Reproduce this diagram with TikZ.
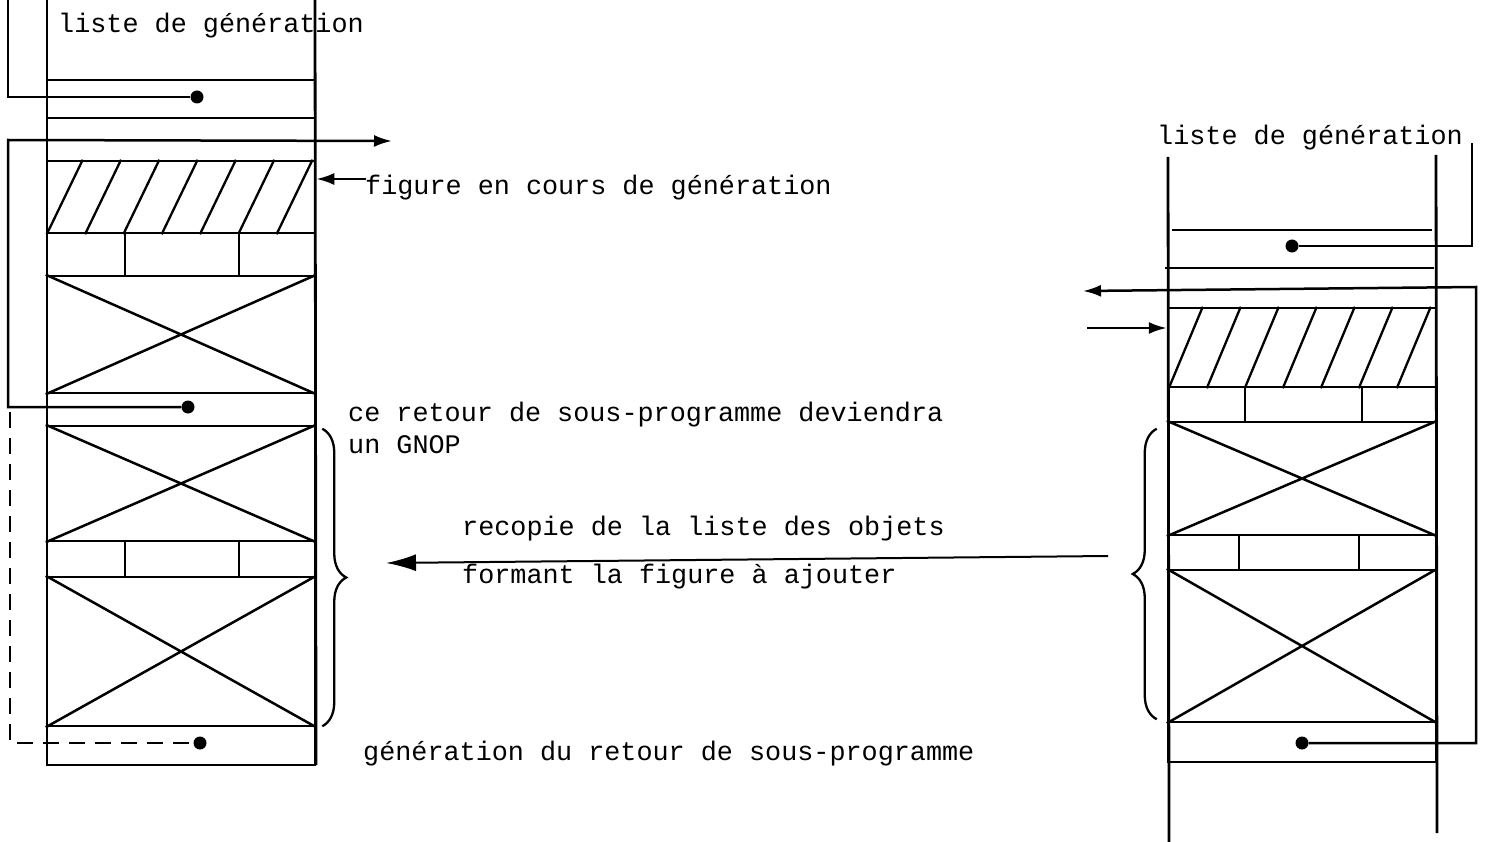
\documentclass[tikz,border=0pt]{standalone}
\usepackage{fontspec}
\setmainfont{Liberation Mono}
\usetikzlibrary{arrows.meta, decorations.pathreplacing}
\tikzset{
  wall/.style={line width=2.8pt},
  cell/.style={draw, line width=2.5pt, rectangle, inner sep=0pt,
    minimum width=268pt},
  xcross/.style={line width=2.5pt},
  hatch/.style={line width=2.3pt},
  ptr/.style={line width=2.5pt},
  ptrarrow/.style={ptr, -{Latex[length=18pt, width=12pt]}},
  bigarrow/.style={line width=2pt, -{Latex[length=30pt, width=17pt]}},
  dot/.style={circle, fill=black, inner sep=0pt, minimum size=13pt},
  lbl/.style={anchor=base west, inner sep=0pt, font=\fontsize{26.8}{32}\selectfont},
  brc/.style={line width=2.3pt, decorate, decoration={brace, amplitude=24pt}}
}

\begin{document}
\begin{tikzpicture}[x=1pt, y=-1pt]

  \useasboundingbox (0,0) rectangle (1487,842);

  % Left list (column 1)
  \draw[wall] (47,0) -- (47,765);
  \draw[wall] (315,0) -- (316,765);
  \draw[ptr] (47,80) -- (315,80);
  \draw[ptr] (47,118) -- (315,118);

  \node[cell, minimum height=72pt]  (lhatch) at (181,197)   {};
  \node[cell, minimum height=43pt]  (lrow1)  at (181,254.5) {};
  \node[cell, minimum height=117pt] (lx1)    at (181,334.5) {};
  \node[cell, minimum height=33pt]  (lret)   at (181,409.5) {};
  \node[cell, minimum height=115pt] (lx2)    at (181,483.5) {};
  \node[cell, minimum height=36pt]  (lrow2)  at (181,559)   {};
  \node[cell, minimum height=149pt] (lx3)    at (181,651.5) {};
  \node[cell, minimum height=39pt]  (lend)   at (181,745.5) {};

  % Right list (column 2)
  \draw[wall] (1168,157) -- (1169,842);
  \draw[wall] (1436,155) -- (1437,833);
  \draw[ptr] (1172,230) -- (1432,230);
  \draw[ptr] (1165,268) -- (1434,268);

  \node[cell, minimum height=79pt]  (rhatch) at (1302,347.5) {};
  \node[cell, minimum height=35pt]  (rrow1)  at (1302,404.5) {};
  \node[cell, minimum height=113pt] (rx1)    at (1302,478.5) {};
  \node[cell, minimum height=35pt]  (rrow2)  at (1302,552.5) {};
  \node[cell, minimum height=152pt] (rx2)    at (1302,646)   {};
  \node[cell, minimum height=40pt]  (rend)   at (1302,742)   {};

  % Hatching and crosses
  \foreach \i in {0,...,6} {
    \draw[hatch] ([xshift=\i*38.3pt+1pt]lhatch.south west) -- ([xshift=\i*38.3pt+37pt]lhatch.north west);
    \draw[hatch] ([xshift=\i*38pt+2pt]rhatch.south west) -- ([xshift=\i*38pt+36pt]rhatch.north west);
  }
  \foreach \b in {lx1, lx2, lx3, rx1, rx2}
    \draw[xcross] (\b.north west) -- (\b.south east) (\b.north east) -- (\b.south west);

  % Row dividers
  \foreach \r/\a/\c in {lrow1/79/193, lrow2/79/193, rrow1/78/195, rrow2/72/192} {
    \draw[ptr] ([xshift=\a pt]\r.north west) -- ([xshift=\a pt]\r.south west);
    \draw[ptr] ([xshift=\c pt]\r.north west) -- ([xshift=\c pt]\r.south west);
  }

  % Pointers
  \node[dot] (ld1) at (197,97)  {};
  \node[dot] (ld2) at (188,407) {};
  \node[dot] (ld3) at (200,743) {};
  \node[dot] (rd1) at (1292,246) {};
  \node[dot] (rd2) at (1302,743) {};

  \coordinate (lin)     at (8,0);
  \coordinate (lcorner) at (8,140);
  \coordinate (lout)    at (392,141);
  \coordinate (ldash)   at (10,412);
  \coordinate (figin)   at (366,179);
  \coordinate (rin)     at (1472,143);
  \coordinate (rcorner) at (1476,287);
  \coordinate (rout)    at (1083,291);
  \coordinate (rfrom)   at (1087,328);
  \coordinate (bstart)  at (1108,556);
  \coordinate (bend)    at (386,563);

  \draw[ptr] (lin) |- (ld1);
  \draw[ptrarrow] (ld2) -| (lcorner) -- (lout);
  \draw[ptr, dashed, dash pattern=on 16pt off 10pt] (ldash) |- (ld3);
  \draw[ptrarrow] (figin) -- (figin -| lhatch.east);

  \draw[ptr] (rin) |- (rd1);
  \draw[ptrarrow] (rd2) -| (rcorner) -- (rout);
  \draw[ptrarrow] (rfrom) -- (rfrom -| rhatch.west);

  % Copy arrow
  \draw[bigarrow] (bstart) -- (bend);

  % Braces
  \draw[brc] ([xshift=6pt, yshift=-4pt]lx2.north east) -- ([xshift=6pt, yshift=1pt]lx3.south east);
  \draw[brc] ([xshift=-10pt, yshift=4pt]rx2.south west) -- ([xshift=-10pt, yshift=-8pt]rx1.north west);

  % Labels
  \node[lbl] (ltitle) at (58,33)   {liste de génération};
  \node[lbl] (fig)    at (365,195) {figure en cours de génération};
  \node[lbl] (gnop)   at (348,421) {ce retour de sous-programme deviendra};
  \node[lbl] (gnopb)  at (348,453) {un GNOP};
  \node[lbl] (copya)  at (462,535) {recopie de la liste des objets};
  \node[lbl] (copyb)  at (462,583) {formant la figure à ajouter};
  \node[lbl] (retgen) at (363,760) {génération du retour de sous-programme};
  \node[lbl] (rtitle) at (1157,145) {liste de génération};

\end{tikzpicture}
\end{document}
